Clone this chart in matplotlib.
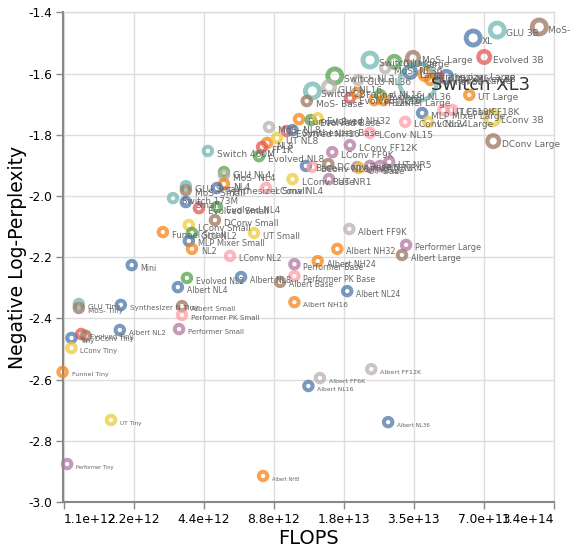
import matplotlib
matplotlib.use('Agg')
import matplotlib.pyplot as plt
from matplotlib.ticker import FixedLocator, FuncFormatter, NullLocator
import numpy as np

# model name, FLOPS, negative log-perplexity, colour group, size class
names = ["MoS- 3B", "GLU 3B", "XL", "Evolved 3B", "Switch XL3", "MLP Mixer 3B", "Evolved Large",
         "Synthesizer Large", "Funnel 3B", "UT Large", "LConv 3B", "DConv Large", "MLP Mixer Large",
         "LConv Large", "UT FF18K", "LConv FF18K", "LConv NL15", "LConv NL24", "LConv FF12K",
         "LConv FF9K", "UT NR5", "UT NR4", "UT NR3", "UT NR2", "UT Base", "UT NR1", "LConv Base",
         "Base", "LConv NL8", "DConv Base", "LConv NL4", "Switch 460M", "Evolved NL8", "GLU NL4",
         "MoS- NL4", "NL4", "GLU Small", "MoS- Small", "Synthesizer Small", "Switch 173M", "Small",
         "Evolved Small", "Evolved NL4", "DConv Small", "LConv Small", "Funnel Small", "GLU NL2",
         "MLP Mixer Small", "NL2", "UT Small", "LConv NL2", "Mini", "Performer Large", "Albert Large",
         "Albert FF9K", "Albert NH32", "Albert NH24", "Performer Base", "Performer PK Base",
         "Albert Base", "Albert NL8", "Evolved NL2", "Albert NL4", "Albert NL24", "Albert NH16",
         "GLU Tiny", "MoS- Tiny", "Synthesizer N Tiny", "Albert Small", "Performer PK Small",
         "Albert NL2", "Performer Small", "Evolved Tiny", "DConv Tiny", "Tiny", "LConv Tiny",
         "Funnel Tiny", "UT Tiny", "Performer Tiny", "Albert NH8", "Albert NL16", "Albert FF6K",
         "Albert FF12K", "Albert NL36", "Switch Large", "GLU Large", "MoS- Large", "MoS- NL36",
         "Large", "Switch NL3", "GLU NL36", "Switch 2B", "GLU NL16", "Evolved NL16", "Funnel NL16",
         "FF12K", "Evolved NL36", "MoS- Base", "Funnel Base", "Evolved Base", "Evolved NH32",
         "MoS- NL8", "Evolved NH16", "NL8", "FF1K", "UT NL8", "Synthesizer Base", "Funnel Large"]

flops_e12 = [121.7, 80.3, 63.3, 70.6, 36.7, 48.5, 44.8,
             39.4, 41.4, 60.9, 76.4, 77.2, 38.2,
             40.6, 47.1, 51.4, 22.8, 32.3, 18.7,
             15.7, 27.6, 25.2, 22.8, 20.1, 20.5, 15.2, 10.6,
             12.1, 12.9, 15.1, 8.15, 4.59, 7.61, 5.38,
             5.38, 5.38, 3.69, 3.69, 5.02, 3.25, 3.69,
             4.20, 5.02, 4.92, 3.80, 2.94, 3.92,
             3.80, 3.92, 7.24, 5.71, 2.16, 32.6, 31.3,
             18.6, 16.5, 13.6, 10.8, 10.8,
             9.37, 6.37, 3.73, 3.41, 18.2, 10.8,
             1.28, 1.28, 1.94, 3.55, 3.55,
             1.92, 3.45, 1.31, 1.37, 1.19, 1.19,
             1.09, 1.76, 1.14, 7.92, 12.4, 13.9,
             23.1, 27.3, 22.8, 29.0, 34.9, 26.5,
             33.9, 16.1, 20.3, 12.9, 15.2, 18.7, 20.1,
             23.8, 25.2, 12.2, 11.3, 12.7, 13.6,
             8.40, 10.0, 8.24, 7.84, 9.09, 10.6, 26.0]

neg_log_ppl = [-1.448, -1.458, -1.484, -1.546, -1.628, -1.611, -1.615,
               -1.602, -1.621, -1.670, -1.745, -1.821, -1.729,
               -1.758, -1.719, -1.719, -1.794, -1.758, -1.834,
               -1.857, -1.889, -1.902, -1.902, -1.906, -1.909, -1.945, -1.945,
               -1.902, -1.905, -1.896, -1.974, -1.853, -1.870, -1.922,
               -1.932, -1.961, -1.968, -1.981, -1.974, -2.007, -2.020,
               -2.040, -2.036, -2.079, -2.095, -2.118, -2.121,
               -2.147, -2.173, -2.121, -2.196, -2.226, -2.160, -2.193,
               -2.108, -2.173, -2.213, -2.223, -2.262,
               -2.281, -2.265, -2.268, -2.298, -2.311, -2.347,
               -2.353, -2.366, -2.356, -2.360, -2.389,
               -2.438, -2.435, -2.451, -2.457, -2.464, -2.497,
               -2.575, -2.732, -2.876, -2.915, -2.621, -2.595,
               -2.566, -2.739, -1.556, -1.562, -1.549, -1.582,
               -1.595, -1.608, -1.621, -1.657, -1.644, -1.680, -1.663,
               -1.687, -1.670, -1.690, -1.749, -1.752, -1.746,
               -1.775, -1.788, -1.827, -1.840, -1.811, -1.785, -1.687]

group = [8, 3, 0, 2, 3, 0, 2,
         1, 1, 1, 5, 8, 0,
         5, 7, 7, 7, 7, 6,
         6, 6, 6, 6, 6, 5, 6, 5,
         0, 7, 8, 7, 3, 4, 4,
         9, 1, 3, 8, 0, 3, 0,
         2, 4, 8, 5, 1, 4,
         0, 1, 5, 7, 0, 6, 8,
         9, 1, 1, 6, 7,
         8, 0, 4, 0, 0, 1,
         3, 8, 0, 8, 7,
         0, 6, 2, 8, 0, 5,
         1, 5, 6, 1, 0, 9,
         9, 0, 3, 4, 8, 9,
         0, 4, 9, 3, 9, 2, 1,
         1, 4, 8, 1, 4, 5,
         9, 2, 1, 2, 5, 0, 1]

size_class = [3, 3, 3, 2, 4, 2, 1,
              2, 1, 1, 3, 2, 1,
              1, 1, 1, 1, 1, 1,
              1, 1, 1, 1, 1, 1, 1, 1,
              1, 1, 1, 1, 1, 1, 1,
              1, 1, 1, 1, 1, 1, 1,
              1, 1, 1, 1, 1, 1,
              1, 1, 1, 1, 1, 1, 1,
              1, 1, 1, 1, 1,
              1, 1, 1, 1, 1, 1,
              1, 1, 1, 1, 1,
              1, 1, 1, 1, 1, 1,
              1, 1, 1, 1, 1, 1,
              1, 1, 3, 2, 2, 1,
              2, 3, 1, 3, 2, 1, 1,
              1, 1, 1, 1, 1, 1,
              1, 1, 1, 1, 1, 1, 1]

palette = ['#4c78a8', '#f58518', '#e45756', '#72b7b2', '#54a24b',
           '#eeca3b', '#b279a2', '#ff9da6', '#9d755d', '#bab0ac']
ring_s = {1: 37, 2: 69, 3: 102, 4: 710}
ring_lw = {1: 2.9, 2: 3.2, 3: 3.5, 4: 3.2}

flops = np.array(flops_e12) * 1e12
nlp = np.array(neg_log_ppl)

fig = plt.figure(figsize=(5.74, 5.49), dpi=100)
ax = fig.add_axes([63.5 / 574, 47 / 549, (554 - 63.5) / 574, (502 - 12.3) / 549])

ax.set_xscale('log', base=2)
ax.set_xlim(1.1e12, 1.1e12 * 128)
ax.set_ylim(-3.0, -1.4)
ax.xaxis.set_major_locator(FixedLocator([1.1e12 * 2 ** k for k in range(8)]))
ax.xaxis.set_minor_locator(NullLocator())
ax.xaxis.set_major_formatter(FuncFormatter(lambda v, p: f'{v:.1e}'))
ax.yaxis.set_major_locator(FixedLocator(np.arange(-3.0, -1.39, 0.2)))
ax.yaxis.set_major_formatter(FuncFormatter(lambda v, p: f'{v:.1f}'))

ax.grid(color='#dddddd', lw=1)
ax.set_axisbelow(True)
for s in ['top', 'right']:
    ax.spines[s].set_color('#dddddd')
    ax.spines[s].set_linewidth(1)
for s in ['left', 'bottom']:
    ax.spines[s].set_color('#888888')
    ax.spines[s].set_linewidth(1.5)
ax.tick_params(length=5, width=1, color='#888888', labelsize=8.8, pad=3)

xticks = ax.xaxis.get_major_ticks()
xticks[0].label1.set_horizontalalignment('left')
xticks[-1].label1.set_horizontalalignment('right')

for i in range(len(names)):
    c = size_class[i]
    ax.scatter(flops[i], nlp[i], s=ring_s[c], facecolors='none',
               edgecolors=palette[group[i]], linewidths=ring_lw[c], alpha=0.75,
               zorder=3 if c < 4 else 4, clip_on=False)

for i in range(len(names)):
    if size_class[i] == 4:
        ax.annotate(names[i], (flops[i], nlp[i]), xytext=(9, -2), textcoords='offset points',
                    fontsize=13, color='#333333', va='center', ha='left', zorder=5,
                    annotation_clip=False)
    else:
        px = min(9.0, 8 + (nlp[i] + 2.2) * 4.3)
        ax.annotate(names[i], (flops[i], nlp[i]), xytext=(6.5, -2.2), textcoords='offset points',
                    fontsize=px * 0.72, color='#666666', va='center', ha='left', zorder=5,
                    annotation_clip=False)

ax.set_xlabel('FLOPS', fontsize=14)
ax.set_ylabel('Negative Log-Perplexity', fontsize=13.5)
ax.xaxis.set_label_coords(0.5, -0.056)
ax.yaxis.set_label_coords(-0.074, 0.5)

plt.savefig('out.png', dpi=100)
